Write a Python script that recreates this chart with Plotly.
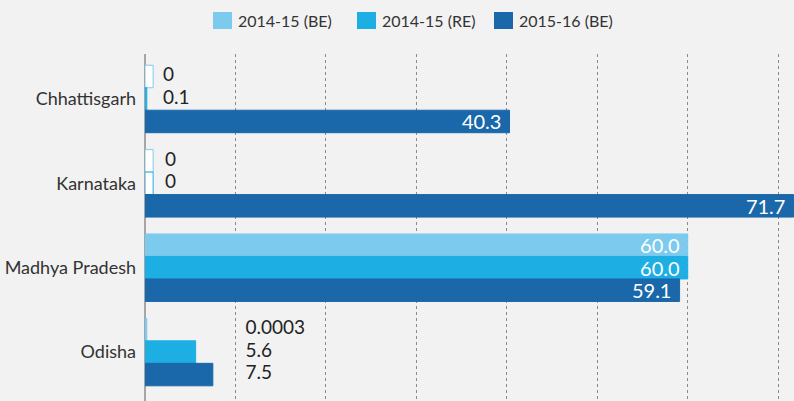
import plotly.graph_objects as go

# data (Rs crore)
states = ["Chhattisgarh", "Karnataka", "Madhya Pradesh", "Odisha"]
be_2014_15 = [0, 0, 60.0, 0.0003]
re_2014_15 = [0.1, 0, 60.0, 5.6]
be_2015_16 = [40.3, 71.7, 59.1, 7.5]
labels_be_2014_15 = ["0", "0", "60.0", "0.0003"]
labels_re_2014_15 = ["0.1", "0", "60.0", "5.6"]
labels_be_2015_16 = ["40.3", "71.7", "59.1", "7.5"]
series_names = ["2014-15 (BE)", "2014-15 (RE)", "2015-16 (BE)"]

# styling
FONT = "Lato, Roboto, sans-serif"
COLORS = ["#7ccbef", "#1daee4", "#1a68aa"]
BG = "#f2f2f2"
W, H = 794, 401
M = dict(l=145, r=0, t=54, b=0)
ZERO_STUB = 0.9          # drawn length of an empty (zero) bar
MIN_VISIBLE = 0.2        # tiny values still show as a hairline
INSIDE_MIN = 30          # values at least this big get their label inside the bar
OUTSIDE_X = {"Chhattisgarh": 2.0, "Karnataka": 2.2, "Madhya Pradesh": None, "Odisha": 11.1}

fig = go.Figure()

series = [
    (be_2014_15, labels_be_2014_15),
    (re_2014_15, labels_re_2014_15),
    (be_2015_16, labels_be_2015_16),
]

for i, (vals, labs) in enumerate(series):
    col = COLORS[i]
    shown = [max(v, MIN_VISIBLE) if v > 0 else ZERO_STUB for v in vals]
    fills = [col if v > 0 else "white" for v in vals]
    fig.add_trace(go.Bar(
        x=shown, y=states, orientation="h",
        name=series_names[i], offsetgroup=str(i),
        marker=dict(color=fills, line=dict(color=col, width=1)),
        text=[l + "\u00a0" if v >= INSIDE_MIN else "" for v, l in zip(vals, labs)],
        textposition="inside", insidetextanchor="end", constraintext="none",
        textfont=dict(family=FONT, size=20, color="white"),
        showlegend=False, hoverinfo="skip",
    ))
    # small values: label set off to the right of the group
    fig.add_trace(go.Scatter(
        x=[OUTSIDE_X[s] if v < INSIDE_MIN else None for s, v in zip(states, vals)],
        y=states, orientation="h", offsetgroup=str(i),
        mode="text", text=labs, textposition="middle right",
        textfont=dict(family=FONT, size=19, color="#222222"),
        showlegend=False, hoverinfo="skip",
    ))

# hand-made legend above the plot
pw = W - M["l"] - M["r"]
ph = H - M["t"] - M["b"]


def px_x(p):
    return (p - M["l"]) / pw


def px_y(p):
    return (H - M["b"] - p) / ph


legend_x = [213, 357, 494]
for i, name in enumerate(series_names):
    x0 = legend_x[i]
    fig.add_shape(type="rect", xref="paper", yref="paper",
                  x0=px_x(x0), x1=px_x(x0 + 19), y0=px_y(29), y1=px_y(12),
                  fillcolor=COLORS[i], line=dict(width=0))
    fig.add_annotation(xref="paper", yref="paper", x=px_x(x0 + 23), y=px_y(20.5),
                       text=name, showarrow=False, xanchor="left", yanchor="middle",
                       font=dict(family=FONT, size=16, color="#333333"))

fig.update_layout(
    width=W, height=H, margin=M,
    paper_bgcolor=BG, plot_bgcolor=BG,
    barmode="group", bargap=0.2, bargroupgap=0,
    scattermode="group", scattergap=0.2,
    xaxis=dict(range=[0, 71.75], dtick=10, showticklabels=False, ticks="",
               showgrid=True, gridcolor="#8a8a8a", griddash="dot", gridwidth=1,
               zeroline=True, zerolinecolor="#a6a6a6", zerolinewidth=2,
               automargin=False),
    yaxis=dict(range=[3.58, -0.533], showgrid=False, ticks="", ticklabelstandoff=8,
               automargin=False,
               tickfont=dict(family=FONT, size=18, color="#333333")),
)

# drop the browser's default 8px page margin so the figure sits flush
fig.write_html("out.html",
               config={"displayModeBar": False},
               post_script="document.body.style.margin='0';"
                           "document.body.style.background='%s';" % BG)
